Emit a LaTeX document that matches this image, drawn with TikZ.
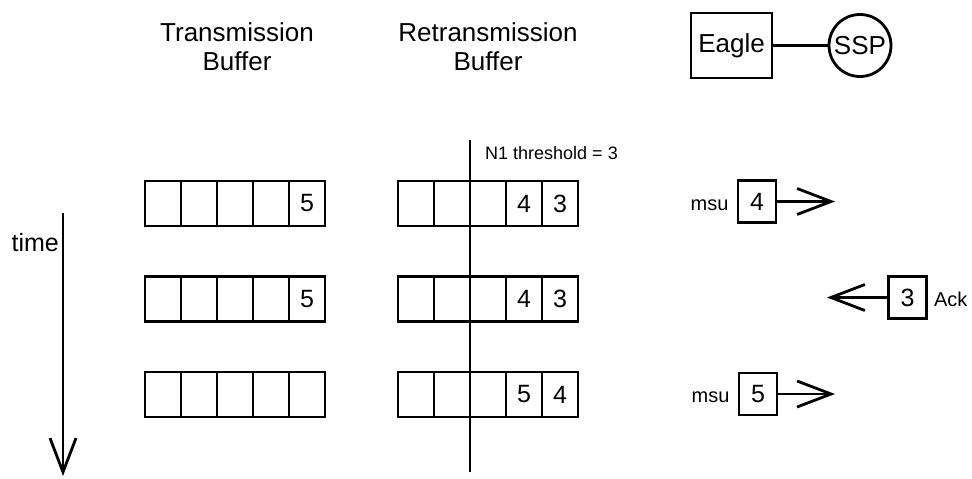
\documentclass[tikz,border=0pt]{standalone}
\usepackage{fontspec}
\setmainfont{Liberation Sans}
\usetikzlibrary{arrows.meta,positioning}

\tikzset{
  cell/.style={draw, line width=2.8pt, minimum width=36pt, minimum height=45pt, inner sep=0pt},
  digit/.style={inner sep=0pt, font=\fontsize{25}{25}\selectfont},
  msgbox/.style={draw, line width=2.8pt, minimum width=38pt, minimum height=42pt, inner sep=0pt, font=\fontsize{25}{25}\selectfont},
  msgarrow/.style={line width=2.8pt, -{Straight Barb[length=34pt, width=26pt]}},
  heading/.style={align=center, inner sep=0pt, font=\fontsize{26}{29}\selectfont},
  lbl/.style={inner sep=0pt, font=\fontsize{20}{20}\selectfont}
}

\begin{document}
\begin{tikzpicture}[x=1pt, y=-1pt]
        \useasboundingbox (0,0) rectangle (972,479);

        % Headings
        \node[heading] (txhead) at (237,47) {Transmission\\Buffer};
        \node[heading] (rxhead) at (488,47) {Retransmission\\Buffer};

        % Eagle linked to SSP
        \node[draw, line width=2.8pt, minimum width=81pt, minimum height=65pt, inner sep=0pt, font=\fontsize{26}{26}\selectfont] (eagle) at (731.5,45.5) {Eagle};
        \node[draw, circle, line width=2.8pt, minimum size=62pt, inner sep=0pt, font=\fontsize{26}{26}\selectfont] (ssp) at (860,45.5) {SSP};
        \draw[line width=2.8pt] (eagle) -- (ssp);

        % Buffer rows, one per time step
        \foreach \row/\y in {1/203.5, 2/299, 3/394.5} {
            \foreach \i in {1,...,5} {
                \node[cell] (tx\row-\i) at ({127+36*\i},\y) {};
                \node[cell] (rx\row-\i) at ({380+36*\i},\y) {};
            }
        }
        \node[digit] (tx1-5d) at (tx1-5) {5};
        \node[digit] (tx2-5d) at (tx2-5) {5};
        \node[digit] (rx1-4d) at (rx1-4) {4};
        \node[digit] (rx1-5d) at (rx1-5) {3};
        \node[digit] (rx2-4d) at (rx2-4) {4};
        \node[digit] (rx2-5d) at (rx2-5) {3};
        \node[digit] (rx3-4d) at (rx3-4) {5};
        \node[digit] (rx3-5d) at (rx3-5) {4};

        % N1 threshold
        \coordinate (thtop) at (470,140);
        \coordinate (thbot) at (470,472);
        \draw[line width=2.8pt] (thtop) -- (thbot);
        \node[lbl, anchor=west, font=\fontsize{18}{18}\selectfont] (thlbl) at (485,153) {N1 threshold = 3};

        % Time axis
        \coordinate (ttop) at (63,213);
        \coordinate (tbot) at (63,476);
        \draw[msgarrow] (ttop) -- (tbot);
        \node[lbl, anchor=east, font=\fontsize{25}{25}\selectfont] (timelbl) at (59,243) {time};

        % Messages on the link
        \node[msgbox] (msu1) at (757,201.5) {4};
        \node[lbl, anchor=base east] (msu1lbl) at ([xshift=-8pt]msu1.base west) {msu};
        \coordinate (msu1end) at (835,201.5);
        \draw[msgarrow] (msu1) -- (msu1end);

        \node[msgbox] (ack) at (907.5,297.5) {3};
        \node[lbl, anchor=base west] (acklbl) at ([xshift=6pt]ack.base east) {Ack};
        \coordinate (ackend) at (827,297.5);
        \draw[msgarrow] (ack) -- (ackend);

        \node[msgbox] (msu2) at (758,394) {5};
        \node[lbl, anchor=base east] (msu2lbl) at ([xshift=-8pt]msu2.base west) {msu};
        \coordinate (msu2end) at (835,394);
        \draw[msgarrow] (msu2) -- (msu2end);
    \end{tikzpicture}
\end{document}
